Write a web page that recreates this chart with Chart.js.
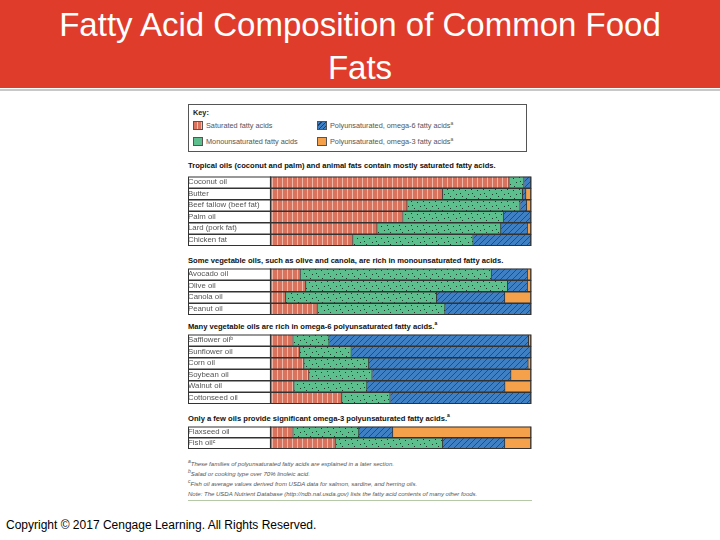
<!DOCTYPE html>
<html><head><meta charset="utf-8">
<script src="https://cdn.jsdelivr.net/npm/chart.js@4"></script>
<style>
body{margin:0;width:720px;height:540px;position:relative;background:#fff;font-family:"Liberation Sans",Arial,sans-serif;overflow:hidden}
#hdr{position:absolute;left:0;top:0;width:720px;height:88px;background:#E03C2B;color:#fff;text-align:center;font-size:33px;line-height:43px;padding-top:3px;box-sizing:border-box}
#hl{position:absolute;left:0;top:89px;width:720px;height:2px;background:#c8c8c8}
sup{line-height:0;font-size:5px}
.sec{position:absolute;left:188px;font-size:7.6px;font-weight:bold;color:#111;white-space:nowrap}
.cv{position:absolute;left:188px;width:344px}
#key{position:absolute;left:188px;top:104px;width:339px;height:48px;border:1px solid #555;box-sizing:border-box;font-size:7.3px;color:#555}
.sw{position:absolute;width:10px;height:9px;border:1px solid #555;box-sizing:border-box}
.kt{position:absolute;white-space:nowrap}
#foot{position:absolute;left:188px;top:459px;font-size:6px;font-style:italic;color:#555;line-height:10px}
#fl{position:absolute;left:188px;top:500px;width:344px;height:1px;background:#b5c9a8}
#copy{position:absolute;left:6px;top:518px;font-size:12px;color:#000}
</style></head><body>
<div id="hdr">Fatty Acid Composition of Common Food<br>Fats</div>
<div id="hl"></div>
<div id="key">
<div class="kt" style="left:4px;top:3px;font-weight:bold;color:#222">Key:</div>
<div class="sw" style="left:4px;top:16px;background:repeating-linear-gradient(90deg,#D9735E 0 3px,#f3c2b5 3px 4px)"></div>
<div class="kt" style="left:17px;top:16px">Saturated fatty acids</div>
<div class="sw" style="left:4px;top:32px;background:#5DBE8E"></div>
<div class="kt" style="left:17px;top:32px">Monounsaturated fatty acids</div>
<div class="sw" style="left:128px;top:16px;background:repeating-linear-gradient(135deg,#3F7FC4 0 2px,#1d3f6e 2px 3px)"></div>
<div class="kt" style="left:141px;top:16px">Polyunsaturated, omega-6 fatty acids<sup>a</sup></div>
<div class="sw" style="left:128px;top:32px;background:#F5A04A"></div>
<div class="kt" style="left:141px;top:32px">Polyunsaturated, omega-3 fatty acids<sup>a</sup></div>
</div>
<div class="sec" style="top:161px">Tropical oils (coconut and palm) and animal fats contain mostly saturated fatty acids.</div>
<canvas id="c1" class="cv" style="top:176px;height:70px"></canvas>
<div class="sec" style="top:256px">Some vegetable oils, such as olive and canola, are rich in monounsaturated fatty acids.</div>
<canvas id="c2" class="cv" style="top:268px;height:47px"></canvas>
<div class="sec" style="top:322px">Many vegetable oils are rich in omega-6 polyunsaturated fatty acids.<sup>a</sup></div>
<canvas id="c3" class="cv" style="top:334px;height:70px"></canvas>
<div class="sec" style="top:414px">Only a few oils provide significant omega-3 polyunsaturated fatty acids.<sup>a</sup></div>
<canvas id="c4" class="cv" style="top:426px;height:23px"></canvas>
<div id="foot"><sup>a</sup>These families of polyunsaturated fatty acids are explained in a later section.<br><sup>b</sup>Salad or cooking type over 70% linoleic acid.<br><sup>c</sup>Fish oil average values derived from USDA data for salmon, sardine, and herring oils.<br>Note: The USDA Nutrient Database (http://ndb.nal.usda.gov) lists the fatty acid contents of many other foods.</div>
<div id="fl"></div>
<div id="copy">Copyright © 2017 Cengage Learning. All Rights Reserved.</div>
<script>
// group 1
const cats1=["Coconut oil","Butter","Beef tallow (beef fat)","Palm oil","Lard (pork fat)","Chicken fat"];
const sat1=[91.7,66.2,52.6,51.0,41.1,31.8];
const mono1=[5.7,30.6,43.3,38.5,47.4,46.1];
const o6_1=[2.6,1.3,2.5,10.5,10.2,22.1];
const o3_1=[0,1.9,1.6,0,1.3,0];
// group 2
const cats2=["Avocado oil","Olive oil","Canola oil","Peanut oil"];
const sat2=[11.7,13.8,6.1,18.2];
const mono2=[73.2,77.3,57.8,48.9];
const o6_2=[13.8,7.6,26.1,32.9];
const o3_2=[1.3,1.3,10.0,0];
// group 3
const cats3=["Safflower oil\u1d47","Sunflower oil","Corn oil","Soybean oil","Walnut oil","Cottonseed oil"];
const sat3=[8.9,11.5,13.1,15.0,9.3,27.6];
const mono3=[13.8,19.7,24.8,24.2,27.9,18.5];
const o6_3=[76.4,68.8,61.1,53.2,52.9,53.9];
const o3_3=[0.9,0,1.0,7.6,9.9,0];
// group 4
const cats4=["Flaxseed oil","Fish oil\u1d9c"];
const sat4=[8.9,25.1];
const mono4=[25.2,41.1];
const o6_4=[13.0,23.8];
const o3_4=[52.9,10.0];

function pat(kind){
  const c=document.createElement('canvas');const x=c.getContext('2d');
  if(kind==='sat'){c.width=5;c.height=5;x.fillStyle='#D9735E';x.fillRect(0,0,5,5);x.fillStyle='#f0b7a8';x.fillRect(4,0,1,5);}
  else if(kind==='mono'){c.width=12;c.height=12;x.fillStyle='#5DBE8E';x.fillRect(0,0,12,12);x.fillStyle='#1e3b2c';
    [[1,2],[7,1],[4,6],[10,8],[2,10],[8,5]].forEach(p=>x.fillRect(p[0],p[1],1,1));}
  else {c.width=6;c.height=6;x.fillStyle='#3F7FC4';x.fillRect(0,0,6,6);x.strokeStyle='#1d3f6e';x.lineWidth=0.8;
    x.beginPath();x.moveTo(0,6);x.lineTo(6,0);x.moveTo(-3,3);x.lineTo(3,-3);x.moveTo(3,9);x.lineTo(9,3);x.stroke();}
  return x.createPattern(c,'repeat');
}
const border={id:'rows',afterDraw(ch){const c=ch.ctx,a=ch.chartArea;c.save();c.strokeStyle='#333';c.lineWidth=1;
  const n=ch.data.labels.length,h=(a.bottom-a.top)/n;
  for(let i=0;i<n;i++){c.strokeRect(0.5,a.top+i*h+0.5,a.right-0.5,h-0.5);}
  c.beginPath();c.moveTo(a.left+0.5,a.top);c.lineTo(a.left+0.5,a.bottom);c.lineWidth=1.2;c.stroke();c.restore();}};
function make(id,cats,s,m,p6,p3){
  new Chart(document.getElementById(id),{type:'bar',
    data:{labels:cats,datasets:[
      {label:'Saturated fatty acids',data:s,backgroundColor:pat('sat')},
      {label:'Monounsaturated fatty acids',data:m,backgroundColor:pat('mono')},
      {label:'Polyunsaturated, omega-6 fatty acids',data:p6,backgroundColor:pat('p6')},
      {label:'Polyunsaturated, omega-3 fatty acids',data:p3,backgroundColor:'#F5A04A'}]},
    options:{indexAxis:'y',responsive:false,animation:false,maintainAspectRatio:false,
      layout:{padding:{top:0.5,bottom:0.5,right:1,left:0}},
      datasets:{bar:{barPercentage:1,categoryPercentage:1,borderWidth:{right:1},borderColor:'#333',borderSkipped:false}},
      plugins:{legend:{display:false},tooltip:{enabled:false}},
      scales:{x:{stacked:true,min:0,max:100,display:false},
        y:{stacked:true,grid:{display:false},border:{display:false},
          afterFit(a){a.width=82;},
          ticks:{autoSkip:false,crossAlign:'far',padding:-78,color:'#555',font:{size:7.8,family:'Liberation Sans'}}}}},
    plugins:[border]});
}
['c1','c2','c3','c4'].forEach(id=>{const e=document.getElementById(id);e.width=344;e.height=parseInt(e.style.height);});
make('c1',cats1,sat1,mono1,o6_1,o3_1);
make('c2',cats2,sat2,mono2,o6_2,o3_2);
make('c3',cats3,sat3,mono3,o6_3,o3_3);
make('c4',cats4,sat4,mono4,o6_4,o3_4);
</script>
</body></html>
